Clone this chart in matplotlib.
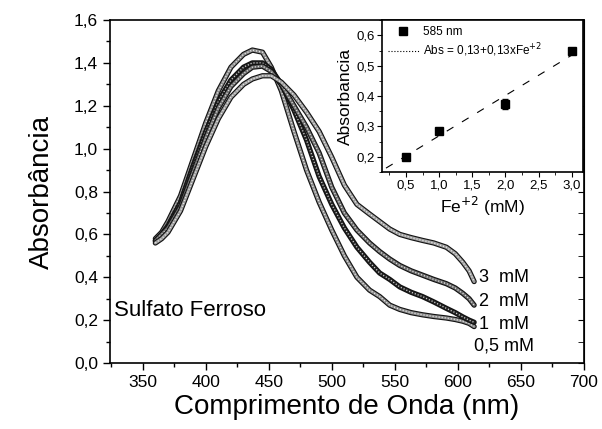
import numpy as np
import matplotlib
matplotlib.use('Agg')
import matplotlib.pyplot as plt
from matplotlib.lines import Line2D
from matplotlib.ticker import MultipleLocator

plt.rcParams['font.family'] = ['Liberation Sans', 'DejaVu Sans']

# Spectra
wl = [360, 365, 370, 380, 390, 400, 410, 420, 430, 437, 445, 452, 460, 470, 480,
      490, 500, 510, 520, 530, 538, 546, 554, 563, 572, 581, 591, 598, 604, 609, 613]
abs_05 = [0.58, 0.61, 0.66, 0.78, 0.95, 1.12, 1.27, 1.38, 1.44, 1.46, 1.45, 1.38, 1.27, 1.08, 0.90,
          0.75, 0.62, 0.50, 0.40, 0.34, 0.31, 0.27, 0.25, 0.235, 0.225, 0.217, 0.21, 0.203, 0.195, 0.185, 0.17]
abs_1 = [0.57, 0.60, 0.64, 0.75, 0.92, 1.08, 1.22, 1.32, 1.38, 1.40, 1.40, 1.37, 1.30, 1.18, 1.04,
         0.87, 0.74, 0.63, 0.54, 0.47, 0.42, 0.39, 0.355, 0.33, 0.31, 0.285, 0.255, 0.235, 0.215, 0.20, 0.19]
abs_2 = [0.57, 0.60, 0.63, 0.73, 0.89, 1.05, 1.19, 1.29, 1.35, 1.38, 1.385, 1.36, 1.30, 1.20, 1.10,
         0.98, 0.82, 0.70, 0.62, 0.56, 0.52, 0.485, 0.455, 0.43, 0.41, 0.39, 0.37, 0.35, 0.325, 0.30, 0.27]
abs_3 = [0.56, 0.58, 0.61, 0.71, 0.86, 1.01, 1.14, 1.24, 1.30, 1.325, 1.34, 1.34, 1.31, 1.25, 1.17,
         1.08, 0.96, 0.83, 0.74, 0.695, 0.66, 0.625, 0.60, 0.585, 0.572, 0.56, 0.54, 0.51, 0.47, 0.43, 0.38]
curve_labels = ['0,5 mM', '1  mM', '2  mM', '3  mM']
label_y = [0.08, 0.18, 0.285, 0.40]

# Inset: absorbance at 585 nm
conc = [0.5, 1.0, 2.0, 3.0]
abs_585 = [0.201, 0.285, 0.375, 0.548]
err_585 = [0.005, 0.007, 0.016, 0.008]

fig = plt.figure(figsize=(6.02, 4.29), dpi=100)
ax = fig.add_axes([0.1827, 0.1538, 0.787, 0.7995])

# hollow-marker look: dark rim, grey body, light speckle
mid = ['#8a8a8a', '#222222', '#6a6a6a', '#9a9a9a']
for ys, mc in zip([abs_05, abs_1, abs_2, abs_3], mid):
    ax.plot(wl, ys, color='#111111', lw=3.8, solid_capstyle='round', solid_joinstyle='round')
    ax.plot(wl, ys, color=mc, lw=2.2, solid_capstyle='round', solid_joinstyle='round')
    ax.plot(wl, ys, color='white', lw=1.0, dashes=(0.8, 1.4), alpha=0.8)

for lab, yy in zip(curve_labels, label_y):
    x0 = 612.5 if lab.startswith('0') else 617
    ax.text(x0, yy, lab, fontsize=13, va='center', ha='left')

ax.text(327, 0.245, 'Sulfato Ferroso', fontsize=16, va='center', ha='left')

ax.set_xlim(324, 700)
ax.set_ylim(0, 1.6)
ax.xaxis.set_major_locator(MultipleLocator(50))
ax.xaxis.set_minor_locator(MultipleLocator(25))
ax.yaxis.set_major_locator(MultipleLocator(0.2))
ax.yaxis.set_minor_locator(MultipleLocator(0.1))
ax.xaxis.set_major_formatter(lambda v, p: '%d' % v)
ax.yaxis.set_major_formatter(lambda v, p: ('%.1f' % v).replace('.', ','))
ax.tick_params(which='both', direction='out', labelsize=12.5, width=1)
ax.tick_params(which='major', length=5)
ax.tick_params(which='minor', length=3)
ax.set_xlabel('Comprimento de Onda (nm)', fontsize=20, labelpad=3)
ax.set_ylabel('Absorbância', fontsize=20, labelpad=14)
for s in ax.spines.values():
    s.set_linewidth(1.2)

# mirrored inward ticks on right
axr = ax.secondary_yaxis('right')
axr.yaxis.set_major_locator(MultipleLocator(0.2))
axr.yaxis.set_minor_locator(MultipleLocator(0.1))
axr.tick_params(which='both', direction='in', labelright=False, length=4)

# inset
ins = fig.add_axes([0.6346, 0.599, 0.334, 0.354])
ins.errorbar(conc, abs_585, yerr=err_585, fmt='s', color='black', ms=6, capsize=2, elinewidth=1)
k, b = np.polyfit(conc, abs_585, 1)
xf = np.array([0.2, 3.17])
ins.plot(xf, b + k * xf, color='black', lw=0.8, dashes=(7, 9))
ins.set_xlim(0.14, 3.17)
ins.set_ylim(0.15, 0.65)
ins.xaxis.set_major_locator(MultipleLocator(0.5))
ins.xaxis.set_minor_locator(MultipleLocator(0.25))
ins.yaxis.set_major_locator(MultipleLocator(0.1))
ins.yaxis.set_minor_locator(MultipleLocator(0.05))
ins.xaxis.set_major_formatter(lambda v, p: ('%.1f' % v).replace('.', ','))
ins.yaxis.set_major_formatter(lambda v, p: ('%.1f' % v).replace('.', ','))
ins.tick_params(which='both', direction='out', labelsize=9.5, pad=2)
ins.tick_params(which='major', length=3.5)
ins.tick_params(which='minor', length=2)
ins.set_xlabel('Fe$^{+2}$ (mM)', fontsize=12.5, labelpad=2)
ins.set_ylabel('Absorbancia', fontsize=12.5, labelpad=2)
for s in ins.spines.values():
    s.set_linewidth(1.2)

handles = [Line2D([], [], ls='none', marker='s', color='black', ms=6),
           Line2D([], [], ls=':', color='black', lw=0.8)]
ins.legend(handles, ['585 nm', 'Abs = 0,13+0,13xFe$^{+2}$'], loc='upper left',
           frameon=False, fontsize=8.5, handlelength=2.6, borderaxespad=0.1,
           labelspacing=0.3, handletextpad=0.4)

fig.savefig('out.png', dpi=100)
